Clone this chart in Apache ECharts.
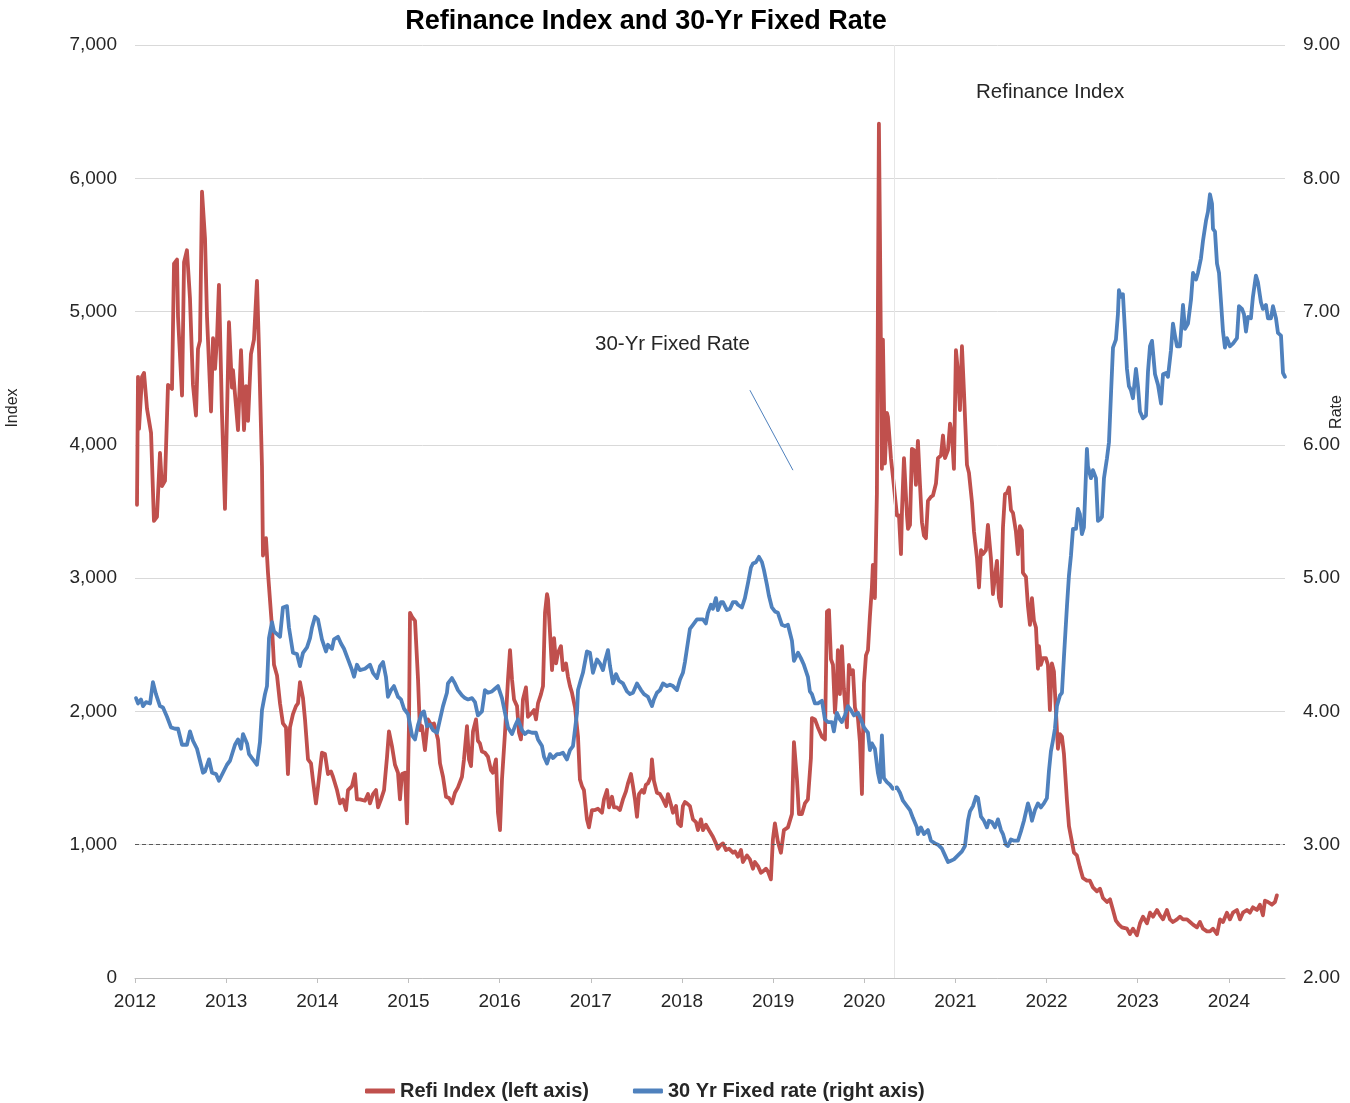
<!DOCTYPE html>
<html>
<head>
<meta charset="utf-8">
<title>Refinance Index and 30-Yr Fixed Rate</title>
<script src="https://cdn.jsdelivr.net/npm/echarts@6/dist/echarts.min.js"></script>
<style>
  html, body { margin: 0; padding: 0; background: #ffffff; overflow: hidden; width: 1350px; height: 1103px; }
  #chart { width: 1350px; height: 1103px; }
</style>
</head>
<body>
<div id="chart"></div>
<script>
// MBA Refinance Index (weekly, left axis) — dates as decimal years
const refiYears = [
  2012.022, 2012.033, 2012.044, 2012.077, 2012.099, 2012.132, 2012.176, 2012.208, 2012.241, 2012.274,
  2012.296, 2012.329, 2012.362, 2012.406, 2012.428, 2012.461, 2012.472, 2012.516, 2012.538, 2012.570,
  2012.603, 2012.636, 2012.669, 2012.691, 2012.713, 2012.735, 2012.768, 2012.790, 2012.834, 2012.856,
  2012.878, 2012.900, 2012.921, 2012.954, 2012.987, 2013.031, 2013.064, 2013.075, 2013.130, 2013.163,
  2013.196, 2013.218, 2013.240, 2013.272, 2013.305, 2013.338, 2013.360, 2013.393, 2013.404, 2013.437,
  2013.459, 2013.503, 2013.525, 2013.558, 2013.591, 2013.623, 2013.656, 2013.678, 2013.700, 2013.733,
  2013.766, 2013.788, 2013.810, 2013.843, 2013.865, 2013.898, 2013.931, 2013.953, 2013.985, 2014.007,
  2014.051, 2014.084, 2014.117, 2014.150, 2014.172, 2014.216, 2014.249, 2014.282, 2014.315, 2014.337,
  2014.381, 2014.413, 2014.435, 2014.468, 2014.523, 2014.556, 2014.578, 2014.611, 2014.644, 2014.666,
  2014.699, 2014.732, 2014.765, 2014.786, 2014.819, 2014.852, 2014.885, 2014.907, 2014.929, 2014.962,
  2014.984, 2015.006, 2015.017, 2015.039, 2015.072, 2015.105, 2015.126, 2015.148, 2015.181, 2015.214,
  2015.247, 2015.280, 2015.324, 2015.346, 2015.379, 2015.412, 2015.445, 2015.477, 2015.510, 2015.543,
  2015.587, 2015.609, 2015.642, 2015.664, 2015.686, 2015.708, 2015.741, 2015.762, 2015.784, 2015.806,
  2015.839, 2015.872, 2015.905, 2015.927, 2015.960, 2015.982, 2016.004, 2016.026, 2016.059, 2016.092,
  2016.114, 2016.136, 2016.158, 2016.191, 2016.213, 2016.234, 2016.256, 2016.289, 2016.311, 2016.355,
  2016.377, 2016.399, 2016.421, 2016.454, 2016.476, 2016.498, 2016.520, 2016.531, 2016.553, 2016.575,
  2016.597, 2016.619, 2016.640, 2016.673, 2016.695, 2016.728, 2016.750, 2016.772, 2016.794, 2016.827,
  2016.860, 2016.881, 2016.903, 2016.925, 2016.958, 2016.980, 2017.013, 2017.046, 2017.079, 2017.123,
  2017.145, 2017.178, 2017.200, 2017.233, 2017.255, 2017.287, 2017.320, 2017.353, 2017.386, 2017.408,
  2017.441, 2017.463, 2017.485, 2017.507, 2017.529, 2017.562, 2017.584, 2017.605, 2017.627, 2017.660,
  2017.671, 2017.693, 2017.726, 2017.759, 2017.792, 2017.825, 2017.847, 2017.880, 2017.902, 2017.935,
  2017.957, 2017.989, 2018.011, 2018.033, 2018.055, 2018.088, 2018.121, 2018.154, 2018.176, 2018.209,
  2018.231, 2018.263, 2018.296, 2018.340, 2018.373, 2018.395, 2018.428, 2018.450, 2018.483, 2018.516,
  2018.560, 2018.582, 2018.615, 2018.648, 2018.669, 2018.713, 2018.746, 2018.779, 2018.801, 2018.834,
  2018.867, 2018.889, 2018.922, 2018.943, 2018.976, 2018.998, 2019.020, 2019.053, 2019.086, 2019.119,
  2019.163, 2019.207, 2019.229, 2019.262, 2019.284, 2019.316, 2019.349, 2019.382, 2019.415, 2019.426,
  2019.459, 2019.492, 2019.536, 2019.569, 2019.591, 2019.613, 2019.635, 2019.657, 2019.679, 2019.700,
  2019.711, 2019.733, 2019.755, 2019.777, 2019.810, 2019.832, 2019.854, 2019.876, 2019.898, 2019.931,
  2019.953, 2019.975, 2019.997, 2020.019, 2020.041, 2020.062, 2020.084, 2020.095, 2020.117, 2020.139,
  2020.161, 2020.172, 2020.194, 2020.205, 2020.227, 2020.249, 2020.260, 2020.293, 2020.315, 2020.359,
  2020.381, 2020.403, 2020.414, 2020.436, 2020.469, 2020.480, 2020.502, 2020.523, 2020.545, 2020.567,
  2020.589, 2020.611, 2020.633, 2020.655, 2020.677, 2020.699, 2020.732, 2020.754, 2020.787, 2020.809,
  2020.842, 2020.864, 2020.886, 2020.919, 2020.941, 2020.962, 2020.984, 2021.006, 2021.028, 2021.050,
  2021.072, 2021.094, 2021.127, 2021.149, 2021.182, 2021.204, 2021.237, 2021.259, 2021.281, 2021.302,
  2021.335, 2021.357, 2021.390, 2021.412, 2021.434, 2021.456, 2021.478, 2021.500, 2021.522, 2021.544,
  2021.566, 2021.588, 2021.610, 2021.632, 2021.664, 2021.686, 2021.708, 2021.730, 2021.741, 2021.774,
  2021.796, 2021.818, 2021.840, 2021.862, 2021.884, 2021.906, 2021.917, 2021.938, 2021.960, 2021.993,
  2022.015, 2022.037, 2022.059, 2022.081, 2022.103, 2022.125, 2022.147, 2022.169, 2022.191, 2022.224,
  2022.246, 2022.279, 2022.301, 2022.333, 2022.366, 2022.399, 2022.443, 2022.476, 2022.509, 2022.553,
  2022.586, 2022.619, 2022.663, 2022.696, 2022.729, 2022.761, 2022.794, 2022.827, 2022.882, 2022.915,
  2022.948, 2022.992, 2023.025, 2023.058, 2023.102, 2023.135, 2023.168, 2023.212, 2023.245, 2023.278,
  2023.321, 2023.354, 2023.387, 2023.431, 2023.464, 2023.497, 2023.541, 2023.574, 2023.607, 2023.650,
  2023.683, 2023.716, 2023.760, 2023.793, 2023.826, 2023.870, 2023.903, 2023.936, 2023.979, 2024.012,
  2024.045, 2024.089, 2024.122, 2024.155, 2024.198, 2024.231, 2024.264, 2024.308, 2024.341, 2024.374,
  2024.396, 2024.429, 2024.473, 2024.506, 2024.527
];
const refiValues = [
  3550, 4510, 4120, 4510, 4540, 4270, 4090, 3430, 3460, 3940,
  3690, 3730, 4450, 4420, 5360, 5390, 4960, 4370, 5370, 5460,
  5100, 4450, 4220, 4720, 4780, 5900, 5550, 4960, 4250, 4800,
  4570, 4800, 5200, 4240, 3520, 4920, 4430, 4560, 4110, 4710,
  4110, 4440, 4180, 4680, 4790, 5230, 4720, 3840, 3170, 3300,
  3040, 2630, 2350, 2270, 2060, 1910, 1880, 1530, 1880, 1980,
  2040, 2060, 2220, 2100, 1940, 1640, 1610, 1480, 1310, 1430,
  1690, 1680, 1530, 1550, 1510, 1410, 1310, 1340, 1260, 1410,
  1440, 1530, 1340, 1340, 1330, 1380, 1310, 1380, 1410, 1280,
  1340, 1410, 1660, 1850, 1740, 1600, 1540, 1340, 1530, 1540,
  1160, 1910, 2740, 2710, 2680, 2240, 1860, 1890, 1710, 1940,
  1900, 1910, 1790, 1610, 1510, 1360, 1350, 1310, 1390, 1430,
  1510, 1640, 1890, 1640, 1590, 1850, 1940, 1780, 1760, 1700,
  1690, 1660, 1560, 1540, 1640, 1240, 1110, 1490, 1840, 2240,
  2460, 2240, 2090, 2040, 1840, 1790, 2090, 2180, 1960, 1990,
  2010, 1940, 2060, 2130, 2190, 2740, 2880, 2840, 2590, 2310,
  2550, 2360, 2440, 2490, 2310, 2360, 2260, 2190, 2140, 2030,
  1810, 1490, 1440, 1410, 1190, 1130, 1260, 1260, 1270, 1240,
  1340, 1410, 1280, 1360, 1280, 1280, 1260, 1340, 1400, 1460,
  1530, 1440, 1340, 1210, 1380, 1410, 1390, 1450, 1460, 1510,
  1640, 1480, 1390, 1380, 1340, 1290, 1380, 1300, 1240, 1290,
  1160, 1140, 1290, 1320, 1310, 1290, 1190, 1170, 1110, 1190,
  1110, 1150, 1110, 1060, 1010, 970, 1000, 1010, 960, 970,
  940, 950, 910, 960, 870, 920, 890, 820, 870, 840,
  790, 800, 820, 800, 740, 1040, 1160, 1020, 940, 1110,
  1130, 1230, 1770, 1490, 1230, 1230, 1310, 1340, 1650, 1950,
  1940, 1880, 1810, 1790, 2750, 2760, 2390, 2350, 1990, 2210,
  2460, 2130, 2490, 2170, 1880, 2350, 2280, 2310, 2030, 1950,
  1770, 1380, 2210, 2420, 2460, 2710, 2930, 3100, 2850, 3640,
  6410, 5600, 3820, 4790, 3860, 4240, 4210, 3900, 3760, 3470,
  3470, 3180, 3500, 3900, 3470, 3370, 3400, 3970, 3960, 3700,
  4030, 3710, 3420, 3320, 3300, 3580, 3610, 3620, 3710, 3900,
  3920, 4070, 3900, 3960, 4160, 4080, 3820, 4710, 4550, 4260,
  4740, 4400, 3850, 3790, 3570, 3350, 3150, 2930, 3210, 3180,
  3210, 3400, 3150, 2880, 3010, 3130, 2850, 2790, 3380, 3630,
  3640, 3680, 3510, 3490, 3350, 3180, 3390, 3360, 3040, 3010,
  2790, 2650, 2850, 2680, 2630, 2320, 2490, 2350, 2400, 2400,
  2350, 2010, 2360, 2300, 2000, 1720, 1830, 1810, 1680, 1330,
  1140, 1020, 940, 920, 830, 750, 730, 730, 680, 650,
  670, 600, 570, 590, 510, 430, 400, 380, 370, 330,
  370, 320, 410, 460, 410, 490, 460, 510, 470, 440,
  510, 440, 420, 440, 460, 440, 440, 420, 400, 380,
  420, 370, 350, 350, 370, 330, 440, 420, 490, 440,
  490, 510, 440, 490, 510, 490, 530, 510, 550, 470,
  580, 570, 550, 570, 620
];

// 30-year fixed mortgage rate, percent (weekly, right axis)
const rateYears = [
  2012.011, 2012.033, 2012.066, 2012.088, 2012.121, 2012.165, 2012.197, 2012.230, 2012.274, 2012.307,
  2012.351, 2012.395, 2012.439, 2012.472, 2012.516, 2012.570, 2012.603, 2012.636, 2012.680, 2012.713,
  2012.746, 2012.768, 2012.812, 2012.845, 2012.889, 2012.921, 2012.965, 2013.009, 2013.042, 2013.097,
  2013.130, 2013.163, 2013.185, 2013.229, 2013.251, 2013.283, 2013.338, 2013.371, 2013.393, 2013.426,
  2013.448, 2013.470, 2013.503, 2013.525, 2013.558, 2013.591, 2013.623, 2013.667, 2013.689, 2013.733,
  2013.777, 2013.810, 2013.843, 2013.887, 2013.920, 2013.942, 2013.975, 2014.007, 2014.051, 2014.095,
  2014.117, 2014.161, 2014.183, 2014.227, 2014.260, 2014.293, 2014.337, 2014.381, 2014.403, 2014.435,
  2014.468, 2014.523, 2014.578, 2014.611, 2014.655, 2014.688, 2014.721, 2014.753, 2014.775, 2014.808,
  2014.841, 2014.885, 2014.918, 2014.951, 2014.995, 2015.039, 2015.072, 2015.105, 2015.148, 2015.170,
  2015.203, 2015.236, 2015.269, 2015.313, 2015.346, 2015.379, 2015.422, 2015.433, 2015.477, 2015.510,
  2015.543, 2015.587, 2015.620, 2015.653, 2015.697, 2015.730, 2015.762, 2015.806, 2015.839, 2015.872,
  2015.916, 2015.949, 2015.982, 2016.026, 2016.059, 2016.092, 2016.136, 2016.169, 2016.202, 2016.245,
  2016.278, 2016.311, 2016.355, 2016.399, 2016.421, 2016.465, 2016.487, 2016.520, 2016.553, 2016.586,
  2016.630, 2016.662, 2016.695, 2016.739, 2016.772, 2016.805, 2016.849, 2016.860, 2016.892, 2016.914,
  2016.958, 2016.991, 2017.024, 2017.068, 2017.101, 2017.134, 2017.156, 2017.189, 2017.211, 2017.244,
  2017.277, 2017.310, 2017.353, 2017.397, 2017.430, 2017.463, 2017.507, 2017.551, 2017.584, 2017.627,
  2017.671, 2017.693, 2017.726, 2017.759, 2017.792, 2017.836, 2017.869, 2017.902, 2017.946, 2017.979,
  2018.011, 2018.033, 2018.055, 2018.088, 2018.121, 2018.165, 2018.198, 2018.231, 2018.263, 2018.285,
  2018.318, 2018.340, 2018.373, 2018.395, 2018.428, 2018.450, 2018.494, 2018.527, 2018.560, 2018.593,
  2018.615, 2018.658, 2018.691, 2018.724, 2018.757, 2018.779, 2018.812, 2018.845, 2018.878, 2018.900,
  2018.933, 2018.954, 2018.987, 2019.020, 2019.053, 2019.097, 2019.130, 2019.163, 2019.207, 2019.229,
  2019.273, 2019.305, 2019.338, 2019.382, 2019.404, 2019.426, 2019.459, 2019.492, 2019.536, 2019.569,
  2019.602, 2019.646, 2019.667, 2019.700, 2019.733, 2019.755, 2019.788, 2019.821, 2019.854, 2019.887,
  2019.931, 2019.964, 2019.997, 2020.019, 2020.041, 2020.062, 2020.084, 2020.117, 2020.150, 2020.172,
  2020.194, 2020.216, 2020.249, 2020.282, 2020.315, 2020.359, 2020.392, 2020.425, 2020.469, 2020.502,
  2020.535, 2020.578, 2020.589, 2020.622, 2020.655, 2020.699, 2020.732, 2020.776, 2020.809, 2020.853,
  2020.886, 2020.919, 2020.951, 2020.984, 2021.028, 2021.072, 2021.105, 2021.138, 2021.160, 2021.193,
  2021.226, 2021.248, 2021.281, 2021.313, 2021.346, 2021.368, 2021.401, 2021.434, 2021.467, 2021.500,
  2021.522, 2021.555, 2021.577, 2021.610, 2021.643, 2021.686, 2021.719, 2021.752, 2021.796, 2021.818,
  2021.840, 2021.873, 2021.906, 2021.938, 2021.971, 2022.004, 2022.026, 2022.048, 2022.070, 2022.092,
  2022.114, 2022.147, 2022.169, 2022.191, 2022.224, 2022.246, 2022.268, 2022.290, 2022.323, 2022.344,
  2022.366, 2022.388, 2022.410, 2022.443, 2022.454, 2022.487, 2022.509, 2022.542, 2022.564, 2022.586,
  2022.608, 2022.630, 2022.663, 2022.685, 2022.707, 2022.729, 2022.761, 2022.783, 2022.794, 2022.816,
  2022.838, 2022.860, 2022.882, 2022.904, 2022.926, 2022.948, 2022.981, 2023.003, 2023.025, 2023.058,
  2023.091, 2023.113, 2023.135, 2023.157, 2023.190, 2023.223, 2023.256, 2023.278, 2023.311, 2023.332,
  2023.365, 2023.387, 2023.409, 2023.431, 2023.464, 2023.497, 2023.519, 2023.552, 2023.585, 2023.607,
  2023.640, 2023.661, 2023.694, 2023.716, 2023.749, 2023.771, 2023.793, 2023.815, 2023.826, 2023.848,
  2023.870, 2023.892, 2023.914, 2023.936, 2023.957, 2023.979, 2024.012, 2024.045, 2024.089, 2024.111,
  2024.144, 2024.166, 2024.188, 2024.210, 2024.242, 2024.264, 2024.297, 2024.319, 2024.352, 2024.374,
  2024.407, 2024.429, 2024.462, 2024.484, 2024.517, 2024.539, 2024.572, 2024.594, 2024.616
];
const rateValues = [
  4.10, 4.06, 4.09, 4.04, 4.07, 4.06, 4.22, 4.13, 4.04, 4.03,
  3.96, 3.88, 3.87, 3.87, 3.75, 3.75, 3.85, 3.78, 3.72, 3.63,
  3.54, 3.55, 3.64, 3.54, 3.53, 3.48, 3.54, 3.60, 3.63, 3.75,
  3.79, 3.72, 3.83, 3.76, 3.68, 3.65, 3.60, 3.77, 4.01, 4.13,
  4.19, 4.55, 4.67, 4.60, 4.58, 4.56, 4.78, 4.79, 4.63, 4.44,
  4.43, 4.34, 4.44, 4.48, 4.55, 4.63, 4.71, 4.69, 4.54, 4.45,
  4.50, 4.47, 4.54, 4.56, 4.51, 4.47, 4.39, 4.31, 4.26, 4.35,
  4.31, 4.32, 4.35, 4.29, 4.25, 4.34, 4.37, 4.26, 4.11, 4.16,
  4.19, 4.11, 4.09, 4.02, 3.98, 3.82, 3.79, 3.90, 3.99, 4.00,
  3.89, 3.90, 3.86, 3.84, 3.94, 4.04, 4.14, 4.21, 4.25, 4.21,
  4.16, 4.12, 4.10, 4.09, 4.10, 4.07, 3.97, 4.00, 4.16, 4.14,
  4.15, 4.17, 4.19, 4.10, 3.99, 3.88, 3.83, 3.89, 3.94, 3.86,
  3.83, 3.85, 3.84, 3.84, 3.79, 3.74, 3.66, 3.61, 3.68, 3.65,
  3.68, 3.68, 3.69, 3.64, 3.71, 3.74, 3.99, 4.16, 4.24, 4.29,
  4.45, 4.44, 4.29, 4.39, 4.36, 4.31, 4.38, 4.46, 4.34, 4.21,
  4.28, 4.23, 4.21, 4.15, 4.13, 4.14, 4.21, 4.16, 4.13, 4.11,
  4.04, 4.09, 4.14, 4.16, 4.21, 4.19, 4.20, 4.19, 4.16, 4.24,
  4.29, 4.37, 4.47, 4.62, 4.65, 4.69, 4.69, 4.69, 4.66, 4.74,
  4.80, 4.77, 4.85, 4.76, 4.82, 4.82, 4.76, 4.77, 4.82, 4.82,
  4.80, 4.78, 4.85, 4.96, 5.08, 5.11, 5.12, 5.16, 5.12, 5.06,
  4.95, 4.87, 4.78, 4.75, 4.74, 4.65, 4.64, 4.65, 4.53, 4.38,
  4.44, 4.40, 4.35, 4.26, 4.15, 4.13, 4.06, 4.06, 4.08, 3.94,
  3.92, 3.92, 3.85, 3.99, 3.94, 3.92, 3.97, 4.04, 4.01, 3.97,
  3.99, 3.94, 3.88, 3.86, 3.84, 3.71, 3.76, 3.72, 3.54, 3.47,
  3.82, 3.50, 3.47, 3.45, 3.42, 3.43, 3.39, 3.33, 3.29, 3.26,
  3.20, 3.13, 3.08, 3.13, 3.08, 3.11, 3.03, 3.01, 3.00, 2.97,
  2.92, 2.87, 2.88, 2.89, 2.92, 2.95, 2.99, 3.18, 3.25, 3.29,
  3.36, 3.35, 3.21, 3.18, 3.13, 3.18, 3.17, 3.13, 3.19, 3.11,
  3.08, 3.00, 2.99, 3.04, 3.03, 3.03, 3.10, 3.18, 3.31, 3.26,
  3.18, 3.26, 3.31, 3.28, 3.31, 3.35, 3.55, 3.70, 3.78, 3.87,
  4.04, 4.12, 4.14, 4.41, 4.79, 5.02, 5.17, 5.37, 5.37, 5.52,
  5.48, 5.33, 5.38, 5.97, 5.84, 5.75, 5.81, 5.75, 5.43, 5.44,
  5.46, 5.75, 5.90, 6.02, 6.38, 6.73, 6.79, 6.98, 7.16, 7.11,
  7.13, 6.86, 6.57, 6.44, 6.41, 6.35, 6.57, 6.44, 6.25, 6.20,
  6.22, 6.55, 6.74, 6.78, 6.53, 6.45, 6.31, 6.53, 6.54, 6.51,
  6.71, 6.91, 6.82, 6.74, 6.74, 7.05, 6.87, 6.91, 7.09, 7.29,
  7.24, 7.29, 7.40, 7.53, 7.68, 7.75, 7.88, 7.81, 7.62, 7.60,
  7.36, 7.29, 7.07, 6.85, 6.73, 6.80, 6.74, 6.76, 6.80, 7.04,
  7.02, 6.98, 6.85, 6.96, 6.95, 7.11, 7.27, 7.22, 7.07, 7.02,
  7.05, 6.95, 6.95, 7.04, 6.95, 6.84, 6.82, 6.54, 6.51
];

// Axis tick settings
const yearTicks = [2012, 2013, 2014, 2015, 2016, 2017, 2018, 2019, 2020, 2021, 2022, 2023, 2024];
const indexTicks = [0, 1000, 2000, 3000, 4000, 5000, 6000, 7000];
const rateTicks = [2, 3, 4, 5, 6, 7, 8, 9];
const lastWeek = 2024.616;

// Reference markers
const refiReferenceLevel = 1000;   // dashed horizontal line
const dividerYear = 2020.33;       // thin vertical divider
const rateLeader = [[2018.746, 6.41], [2019.218, 5.81]];

const RED = '#C0504D';
const BLUE = '#4F81BD';
const FONT = '"Liberation Sans", Arial, sans-serif';

const refiData = refiYears.map((y, i) => [y, refiValues[i]]);
const rateData = rateYears.map((y, i) => [y, rateValues[i]]);

const chart = echarts.init(document.getElementById('chart'), null, { renderer: 'canvas', width: 1350, height: 1103 });

chart.setOption({
  backgroundColor: '#ffffff',
  animation: false,
  textStyle: { fontFamily: FONT },
  grid: { left: 135, right: 65, top: 45, bottom: 125, containLabel: false },
  graphic: [
    {
      type: 'text', x: 646, y: 8,
      style: { text: 'Refinance Index and 30-Yr Fixed Rate', font: 'bold 27px ' + FONT, fill: '#000000', textAlign: 'center' }
    },
    {
      type: 'text', left: 976, top: 82,
      style: { text: 'Refinance Index', font: '20.5px ' + FONT, fill: '#262626' }
    },
    {
      type: 'text', left: 595, top: 334,
      style: { text: '30-Yr Fixed Rate', font: '20.5px ' + FONT, fill: '#262626' }
    },
    {
      type: 'text', x: 13, y: 408, rotation: Math.PI / 2,
      style: { text: 'Index', font: '16px ' + FONT, fill: '#262626', textAlign: 'center', textVerticalAlign: 'middle' }
    },
    {
      type: 'text', x: 1337, y: 412, rotation: Math.PI / 2,
      style: { text: 'Rate', font: '16px ' + FONT, fill: '#262626', textAlign: 'center', textVerticalAlign: 'middle' }
    }
  ],
  legend: {
    left: 360,
    top: 1076,
    itemWidth: 30,
    itemHeight: 5,
    itemGap: 44,
    icon: 'roundRect',
    textStyle: { fontFamily: FONT, fontSize: 20, fontWeight: 'bold', color: '#262626' },
    data: ['Refi Index (left axis)', '30 Yr Fixed rate (right axis)']
  },
  xAxis: {
    type: 'value',
    min: yearTicks[0],
    max: lastWeek,
    interval: 1,
    axisLine: { show: true, lineStyle: { color: '#bfbfbf', width: 1 } },
    axisTick: { show: true, length: 5, lineStyle: { color: '#bfbfbf' } },
    splitLine: { show: false },
    axisLabel: {
      showMaxLabel: false,
      margin: 14,
      fontSize: 19,
      color: '#262626',
      fontFamily: FONT,
      formatter: v => (yearTicks.indexOf(Math.round(v)) >= 0 && Math.abs(v - Math.round(v)) < 1e-6) ? String(Math.round(v)) : ''
    }
  },
  yAxis: [
    {
      type: 'value',
      min: indexTicks[0],
      max: indexTicks[indexTicks.length - 1],
      interval: 1000,
      axisLine: { show: false },
      axisTick: { show: false },
      splitLine: { show: true, lineStyle: { color: '#d9d9d9', width: 1 } },
      axisLabel: {
        margin: 18, fontSize: 19, color: '#262626', fontFamily: FONT,
        formatter: v => v.toLocaleString('en-US')
      }
    },
    {
      type: 'value',
      min: rateTicks[0],
      max: rateTicks[rateTicks.length - 1],
      interval: 1,
      axisLine: { show: false },
      axisTick: { show: false },
      splitLine: { show: false },
      axisLabel: {
        margin: 18, fontSize: 19, color: '#262626', fontFamily: FONT,
        formatter: v => v.toFixed(2)
      }
    }
  ],
  series: [
    {
      name: 'Refi Index (left axis)',
      type: 'line',
      yAxisIndex: 0,
      data: refiData,
      showSymbol: false,
      symbol: 'none',
      color: RED,
      lineStyle: { color: RED, width: 3.8, join: 'round', cap: 'round' },
      markLine: {
        silent: true,
        symbol: ['none', 'none'],
        label: { show: false },
        data: [
          { yAxis: refiReferenceLevel, lineStyle: { color: '#595959', type: [4, 3], width: 1.2 } },
          { xAxis: dividerYear, lineStyle: { color: '#e6e6e6', type: 'solid', width: 1 } }
        ]
      }
    },
    {
      name: '30 Yr Fixed rate (right axis)',
      type: 'line',
      yAxisIndex: 1,
      data: rateData,
      showSymbol: false,
      symbol: 'none',
      color: BLUE,
      lineStyle: { color: BLUE, width: 3.8, join: 'round', cap: 'round' },
      markLine: {
        silent: true,
        symbol: ['none', 'none'],
        label: { show: false },
        lineStyle: { color: BLUE, type: 'solid', width: 1 },
        data: [[{ coord: rateLeader[0] }, { coord: rateLeader[1] }]]
      }
    }
  ]
});
</script>
</body>
</html>
